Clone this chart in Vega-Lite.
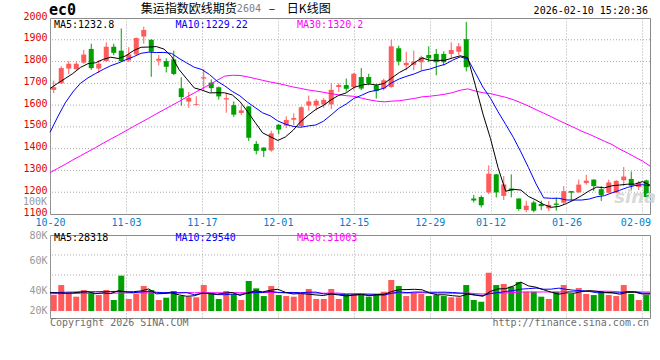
{
  "$schema": "https://vega.github.io/schema/vega-lite/v6.json",
  "background": "#ffffff",
  "autosize": {"type": "none"},
  "padding": {"left": 50, "top": 18, "right": 610, "bottom": 342},
  "bounds": "flush",
  "spacing": 21,
  "config": {
    "view": {"stroke": "#8a8a8a", "strokeWidth": 1},
    "axis": {"labelFont": "DejaVu Sans Mono", "labelFontSize": 10, "domain": false, "ticks": false, "gridColor": "#aaaaaa", "gridDash": [1, 2], "gridWidth": 1}
  },
  "datasets": {
    "k": [
      {"d":"10-20","o":1670,"h":1712,"l":1655,"c":1682,"v":32600,"m5":1676,"m10":1475,"m30":1290,"vm5":34500,"vm10":34500,"vm30":33600},
      {"d":"10-21","o":1700,"h":1778,"l":1698,"c":1770,"v":40500,"m5":1700,"m10":1545,"m30":1309,"vm5":34200,"vm10":34600,"vm30":33700},
      {"d":"10-22","o":1768,"h":1802,"l":1742,"c":1790,"v":33400,"m5":1722,"m10":1610,"m30":1328,"vm5":34000,"vm10":34800,"vm30":33800},
      {"d":"10-23","o":1765,"h":1800,"l":1762,"c":1790,"v":31300,"m5":1745,"m10":1660,"m30":1348,"vm5":34200,"vm10":34900,"vm30":33800},
      {"d":"10-24","o":1795,"h":1853,"l":1790,"c":1832,"v":36600,"m5":1772.8,"m10":1700,"m30":1367,"vm5":34880,"vm10":35000,"vm30":33900},
      {"d":"10-27","o":1858,"h":1882,"l":1762,"c":1770,"v":34400,"m5":1790.4,"m10":1725,"m30":1386,"vm5":35240,"vm10":35100,"vm30":33900},
      {"d":"10-28","o":1768,"h":1806,"l":1748,"c":1790,"v":32600,"m5":1794.4,"m10":1745,"m30":1405,"vm5":33660,"vm10":35200,"vm30":34000},
      {"d":"10-29","o":1802,"h":1888,"l":1800,"c":1868,"v":36600,"m5":1810,"m10":1764,"m30":1425,"vm5":34300,"vm10":35300,"vm30":34000},
      {"d":"10-30","o":1868,"h":1882,"l":1829,"c":1840,"v":28700,"m5":1820,"m10":1781,"m30":1444,"vm5":33780,"vm10":35400,"vm30":34100},
      {"d":"10-31","o":1850,"h":1952,"l":1798,"c":1802,"v":47900,"m5":1814,"m10":1793.4,"m30":1463,"vm5":36040,"vm10":35460,"vm30":34200},
      {"d":"11-03","o":1805,"h":1866,"l":1798,"c":1833,"v":29500,"m5":1826.6,"m10":1808.5,"m30":1482,"vm5":35060,"vm10":35150,"vm30":34200},
      {"d":"11-04","o":1833,"h":1910,"l":1830,"c":1908,"v":33400,"m5":1850.2,"m10":1822.3,"m30":1502,"vm5":35220,"vm10":34440,"vm30":34300},
      {"d":"11-05","o":1915,"h":1960,"l":1882,"c":1945,"v":39700,"m5":1865.6,"m10":1837.8,"m30":1521,"vm5":35840,"vm10":35070,"vm30":34300},
      {"d":"11-06","o":1900,"h":1902,"l":1730,"c":1845,"v":36600,"m5":1866.6,"m10":1843.3,"m30":1540,"vm5":37420,"vm10":35600,"vm30":34400},
      {"d":"11-07","o":1804,"h":1830,"l":1782,"c":1813,"v":28700,"m5":1868.8,"m10":1841.4,"m30":1560,"vm5":33580,"vm10":34810,"vm30":34400},
      {"d":"11-10","o":1802,"h":1815,"l":1750,"c":1776,"v":30500,"m5":1857.4,"m10":1842,"m30":1579,"vm5":33780,"vm10":34420,"vm30":34400},
      {"d":"11-11","o":1810,"h":1850,"l":1738,"c":1743,"v":35800,"m5":1824.4,"m10":1837.3,"m30":1598,"vm5":34260,"vm10":34740,"vm30":34500},
      {"d":"11-12","o":1677,"h":1728,"l":1597,"c":1637,"v":31800,"m5":1762.8,"m10":1814.2,"m30":1617,"vm5":32680,"vm10":34260,"vm30":34500},
      {"d":"11-13","o":1616,"h":1660,"l":1588,"c":1634,"v":31300,"m5":1720.6,"m10":1793.6,"m30":1637,"vm5":31620,"vm10":34520,"vm30":34500},
      {"d":"11-14","o":1600,"h":1640,"l":1598,"c":1604,"v":30800,"m5":1678.8,"m10":1773.8,"m30":1656,"vm5":32040,"vm10":32810,"vm30":34400},
      {"d":"11-17","o":1722,"h":1765,"l":1670,"c":1728,"v":40500,"m5":1669.2,"m10":1763.3,"m30":1675,"vm5":34040,"vm10":33910,"vm30":34500},
      {"d":"11-18","o":1703,"h":1718,"l":1660,"c":1678,"v":34000,"m5":1656.2,"m10":1740.3,"m30":1694,"vm5":33680,"vm10":33970,"vm30":34500},
      {"d":"11-19","o":1682,"h":1685,"l":1625,"c":1640,"v":29500,"m5":1656.8,"m10":1709.8,"m30":1714,"vm5":33220,"vm10":32950,"vm30":34400},
      {"d":"11-20","o":1626,"h":1656,"l":1565,"c":1632,"v":35800,"m5":1656.4,"m10":1688.5,"m30":1733,"vm5":34120,"vm10":32870,"vm30":34400},
      {"d":"11-21","o":1600,"h":1617,"l":1546,"c":1556,"v":33400,"m5":1646.8,"m10":1662.8,"m30":1737,"vm5":34640,"vm10":33340,"vm30":34500},
      {"d":"11-24","o":1564,"h":1598,"l":1555,"c":1576,"v":28700,"m5":1616.4,"m10":1642.8,"m30":1736,"vm5":32280,"vm10":33160,"vm30":34400},
      {"d":"11-25","o":1594,"h":1596,"l":1435,"c":1450,"v":43700,"m5":1570.8,"m10":1613.5,"m30":1730,"vm5":34220,"vm10":33950,"vm30":34500},
      {"d":"11-26","o":1422,"h":1435,"l":1374,"c":1390,"v":37900,"m5":1520.8,"m10":1588.8,"m30":1722,"vm5":35900,"vm10":34560,"vm30":34500},
      {"d":"11-27","o":1405,"h":1406,"l":1362,"c":1390,"v":31800,"m5":1472.4,"m10":1564.4,"m30":1714,"vm5":35100,"vm10":34610,"vm30":34500},
      {"d":"11-28","o":1392,"h":1482,"l":1386,"c":1470,"v":39700,"m5":1455.2,"m10":1551,"m30":1706.1,"vm5":36360,"vm10":35500,"vm30":34590},
      {"d":"12-01","o":1510,"h":1512,"l":1466,"c":1488,"v":32600,"m5":1437.6,"m10":1527,"m30":1699.6,"vm5":37140,"vm10":34710,"vm30":34590},
      {"d":"12-02","o":1506,"h":1548,"l":1495,"c":1532,"v":31800,"m5":1454,"m10":1512.4,"m30":1691.7,"vm5":34760,"vm10":34490,"vm30":34300},
      {"d":"12-03","o":1533,"h":1562,"l":1508,"c":1541,"v":31300,"m5":1484.2,"m10":1502.5,"m30":1683.4,"vm5":33440,"vm10":34670,"vm30":34230},
      {"d":"12-04","o":1504,"h":1595,"l":1500,"c":1590,"v":33400,"m5":1524.2,"m10":1498.3,"m30":1676.7,"vm5":33760,"vm10":34430,"vm30":34300},
      {"d":"12-05","o":1598,"h":1644,"l":1575,"c":1617,"v":37400,"m5":1553.6,"m10":1504.4,"m30":1669.5,"vm5":33300,"vm10":34830,"vm30":34330},
      {"d":"12-08","o":1598,"h":1628,"l":1576,"c":1620,"v":29500,"m5":1580,"m10":1508.8,"m30":1664.5,"vm5":32680,"vm10":34910,"vm30":34170},
      {"d":"12-09","o":1603,"h":1632,"l":1588,"c":1624,"v":29500,"m5":1598.4,"m10":1526.2,"m30":1659,"vm5":32220,"vm10":33490,"vm30":34070},
      {"d":"12-10","o":1603,"h":1700,"l":1582,"c":1670,"v":37400,"m5":1624.2,"m10":1554.2,"m30":1652.4,"vm5":33440,"vm10":33440,"vm30":34100},
      {"d":"12-11","o":1683,"h":1700,"l":1660,"c":1692,"v":29500,"m5":1644.6,"m10":1584.4,"m30":1647.5,"vm5":32660,"vm10":33210,"vm30":34130},
      {"d":"12-12","o":1692,"h":1722,"l":1662,"c":1675,"v":33400,"m5":1656.2,"m10":1604.9,"m30":1643.2,"vm5":31860,"vm10":32580,"vm30":33650},
      {"d":"12-15","o":1683,"h":1748,"l":1668,"c":1744,"v":33400,"m5":1681,"m10":1630.5,"m30":1640.3,"vm5":32640,"vm10":32660,"vm30":33780},
      {"d":"12-16","o":1729,"h":1770,"l":1668,"c":1676,"v":32600,"m5":1691.4,"m10":1644.9,"m30":1632.5,"vm5":33260,"vm10":32740,"vm30":33750},
      {"d":"12-17","o":1729,"h":1744,"l":1691,"c":1700,"v":31300,"m5":1697.4,"m10":1660.8,"m30":1624.4,"vm5":32040,"vm10":32740,"vm30":33470},
      {"d":"12-18","o":1691,"h":1698,"l":1630,"c":1664,"v":33400,"m5":1691.8,"m10":1668.2,"m30":1618.3,"vm5":32820,"vm10":32740,"vm30":33360},
      {"d":"12-19","o":1676,"h":1721,"l":1668,"c":1714,"v":35200,"m5":1699.6,"m10":1677.9,"m30":1615,"vm5":33180,"vm10":32520,"vm30":33580},
      {"d":"12-22","o":1683,"h":1900,"l":1680,"c":1870,"v":44500,"m5":1724.8,"m10":1702.9,"m30":1618.2,"vm5":35400,"vm10":34020,"vm30":34050},
      {"d":"12-23","o":1861,"h":1873,"l":1782,"c":1800,"v":39700,"m5":1749.6,"m10":1720.5,"m30":1620.1,"vm5":36820,"vm10":35040,"vm30":34180},
      {"d":"12-24","o":1783,"h":1845,"l":1760,"c":1794,"v":31800,"m5":1768.4,"m10":1732.9,"m30":1625.3,"vm5":36920,"vm10":34480,"vm30":34180},
      {"d":"12-25","o":1785,"h":1850,"l":1760,"c":1800,"v":34400,"m5":1795.6,"m10":1743.7,"m30":1630.8,"vm5":37120,"vm10":34970,"vm30":34280},
      {"d":"12-26","o":1797,"h":1827,"l":1759,"c":1820,"v":33400,"m5":1816.8,"m10":1758.2,"m30":1638,"vm5":36760,"vm10":34970,"vm30":34370},
      {"d":"12-29","o":1830,"h":1870,"l":1797,"c":1815,"v":31800,"m5":1805.8,"m10":1765.3,"m30":1640.9,"vm5":34220,"vm10":34810,"vm30":34080},
      {"d":"12-30","o":1835,"h":1858,"l":1737,"c":1797,"v":32600,"m5":1805.2,"m10":1777.4,"m30":1644.9,"vm5":32800,"vm10":34810,"vm30":34030},
      {"d":"12-31","o":1835,"h":1847,"l":1782,"c":1797,"v":31800,"m5":1805.8,"m10":1787.1,"m30":1650.1,"vm5":32800,"vm10":34860,"vm30":34110},
      {"d":"01-05","o":1835,"h":1888,"l":1815,"c":1853,"v":30800,"m5":1816.4,"m10":1806,"m30":1657.5,"vm5":32080,"vm10":34600,"vm30":33940},
      {"d":"01-06","o":1845,"h":1885,"l":1830,"c":1870,"v":30800,"m5":1826.4,"m10":1821.6,"m30":1668,"vm5":31560,"vm10":34160,"vm30":33850},
      {"d":"01-07","o":1903,"h":1982,"l":1755,"c":1774,"v":40500,"m5":1818.2,"m10":1812,"m30":1674.6,"vm5":33300,"vm10":33760,"vm30":34240},
      {"d":"01-08","o":1171,"h":1188,"l":1153,"c":1162,"v":28700,"m5":1691.2,"m10":1748.2,"m30":1665,"vm5":32520,"vm10":32660,"vm30":33740},
      {"d":"01-09","o":1178,"h":1185,"l":1130,"c":1140,"v":27300,"m5":1559.8,"m10":1682.8,"m30":1656.6,"vm5":31620,"vm10":32210,"vm30":33390},
      {"d":"01-12","o":1199,"h":1323,"l":1191,"c":1285,"v":50200,"m5":1446.2,"m10":1631.3,"m30":1653.1,"vm5":35500,"vm10":33790,"vm30":34000},
      {"d":"01-13","o":1282,"h":1284,"l":1176,"c":1199,"v":40500,"m5":1312,"m10":1569.2,"m30":1644.1,"vm5":37440,"vm10":34500,"vm30":34030},
      {"d":"01-14","o":1183,"h":1274,"l":1164,"c":1236,"v":41300,"m5":1204.4,"m10":1511.3,"m30":1635.7,"vm5":37600,"vm10":35450,"vm30":34320},
      {"d":"01-15","o":1217,"h":1282,"l":1176,"c":1207,"v":39200,"m5":1213.4,"m10":1452.3,"m30":1624.9,"vm5":39700,"vm10":36110,"vm30":34570},
      {"d":"01-16","o":1171,"h":1172,"l":1115,"c":1123,"v":42900,"m5":1210,"m10":1384.9,"m30":1610.9,"vm5":42820,"vm10":37220,"vm30":34960},
      {"d":"01-19","o":1118,"h":1161,"l":1108,"c":1138,"v":35200,"m5":1180.6,"m10":1313.4,"m30":1595.9,"vm5":39820,"vm10":37660,"vm30":35020},
      {"d":"01-20","o":1153,"h":1161,"l":1108,"c":1115,"v":35200,"m5":1163.8,"m10":1237.9,"m30":1579.1,"vm5":38760,"vm10":38100,"vm30":34950},
      {"d":"01-21","o":1146,"h":1161,"l":1118,"c":1136,"v":31300,"m5":1143.8,"m10":1174.1,"m30":1563,"vm5":36760,"vm10":37180,"vm30":35010},
      {"d":"01-22","o":1126,"h":1160,"l":1114,"c":1142,"v":29500,"m5":1130.8,"m10":1172.1,"m30":1546.9,"vm5":34820,"vm10":37260,"vm30":35010},
      {"d":"01-23","o":1148,"h":1175,"l":1115,"c":1142,"v":35200,"m5":1134.6,"m10":1172.3,"m30":1529.3,"vm5":33280,"vm10":38050,"vm30":34940},
      {"d":"01-26","o":1152,"h":1228,"l":1144,"c":1205,"v":40500,"m5":1148,"m10":1164.3,"m30":1513.1,"vm5":34340,"vm10":37080,"vm30":35310},
      {"d":"01-27","o":1205,"h":1206,"l":1162,"c":1198,"v":33400,"m5":1164.6,"m10":1164.2,"m30":1497.2,"vm5":33980,"vm10":36370,"vm30":35310},
      {"d":"01-28","o":1200,"h":1258,"l":1197,"c":1235,"v":38100,"m5":1184.4,"m10":1164.1,"m30":1480.2,"vm5":35340,"vm10":36050,"vm30":35470},
      {"d":"01-29","o":1242,"h":1280,"l":1235,"c":1253,"v":33400,"m5":1206.6,"m10":1168.7,"m30":1466.1,"vm5":36120,"vm10":35470,"vm30":35500},
      {"d":"01-30","o":1258,"h":1259,"l":1205,"c":1228,"v":32600,"m5":1223.8,"m10":1179.2,"m30":1450.4,"vm5":35600,"vm10":34440,"vm30":35540},
      {"d":"02-02","o":1214,"h":1228,"l":1160,"c":1187,"v":35800,"m5":1220.2,"m10":1184.1,"m30":1434.5,"vm5":34660,"vm10":34500,"vm30":35620},
      {"d":"02-03","o":1198,"h":1258,"l":1195,"c":1245,"v":32600,"m5":1229.6,"m10":1197.1,"m30":1418.9,"vm5":34500,"vm10":34240,"vm30":35530},
      {"d":"02-04","o":1198,"h":1256,"l":1195,"c":1252,"v":31800,"m5":1233,"m10":1208.7,"m30":1398.3,"vm5":33240,"vm10":34290,"vm30":35110},
      {"d":"02-05","o":1255,"h":1316,"l":1228,"c":1272,"v":40500,"m5":1236.8,"m10":1221.7,"m30":1380.7,"vm5":34660,"vm10":35390,"vm30":35140},
      {"d":"02-06","o":1261,"h":1295,"l":1208,"c":1230,"v":33400,"m5":1237.2,"m10":1230.5,"m30":1361.9,"vm5":34820,"vm10":35210,"vm30":35190},
      {"d":"02-09","o":1224,"h":1252,"l":1210,"c":1244,"v":28700,"m5":1248.6,"m10":1234.4,"m30":1343.3,"vm5":33400,"vm10":34030,"vm30":35000},
      {"d":"02-10","o":1254,"h":1258,"l":1174,"c":1178,"v":32600,"m5":1232.8,"m10":1229.22,"m30":1320.2,"vm5":33400,"vm10":33950,"vm30":34970}
    ]
  },
  "vconcat": [
    {
      "width": 600,
      "height": 196,
      "data": {"name": "k"},
      "layer": [
        {
          "data": {"values": [{"g": 1200}, {"g": 1300}, {"g": 1400}, {"g": 1500}, {"g": 1600}, {"g": 1700}, {"g": 1800}, {"g": 1900}]},
          "mark": {"type": "rule", "color": "#aaaaaa", "strokeWidth": 1, "strokeDash": [1, 2]},
          "encoding": {
            "y": {"field": "g", "type": "quantitative", "scale": {"domain": [1100, 2000], "nice": false, "zero": false},
              "axis": {"values": [1100,1200,1300,1400,1500,1600,1700,1800,1900,2000], "format": "d", "labelOverlap": false, "title": null, "grid": false, "labelColor": "#e00000", "labelPadding": 3, "labelOffset": -2}}
          }
        },
        {
          "encoding": {
            "x": {"field": "d", "type": "ordinal", "sort": null, "scale": {"type": "band", "paddingInner": 0, "paddingOuter": 0}, "axis": null}
          },
          "layer": [
            {
              "mark": {"type": "rule", "strokeWidth": 1},
              "encoding": {
                "y": {"field": "l", "type": "quantitative", "scale": {"domain": [1100, 2000], "nice": false, "zero": false},
                  "axis": {"values": [1100,1200,1300,1400,1500,1600,1700,1800,1900,2000], "format": "d", "labelOverlap": false, "title": null, "grid": false, "labelColor": "#e00000", "labelPadding": 3, "labelOffset": -2}},
                "y2": {"field": "h"},
                "color": {"condition": {"test": "datum.c >= datum.o", "value": "#ff5b5b"}, "value": "#00a000"}
              }
            },
            {
              "mark": {"type": "bar", "size": 5},
              "encoding": {
                "y": {"field": "o", "type": "quantitative", "scale": {"domain": [1100, 2000], "nice": false, "zero": false},
                  "axis": {"values": [1100,1200,1300,1400,1500,1600,1700,1800,1900,2000], "format": "d", "labelOverlap": false, "title": null, "grid": false, "labelColor": "#e00000", "labelPadding": 3, "labelOffset": -2}},
                "y2": {"field": "c"},
                "color": {"condition": {"test": "datum.c >= datum.o", "value": "#ff5b5b"}, "value": "#00a000"}
              }
            }
          ]
        },
        {
          "encoding": {
            "x": {
              "field": "d", "type": "ordinal", "sort": null,
              "scale": {"type": "point", "padding": 0, "domain": ["10-20","10-21","10-22","10-23","10-24","10-27","10-28","10-29","10-30","10-31","11-03","11-04","11-05","11-06","11-07","11-10","11-11","11-12","11-13","11-14","11-17","11-18","11-19","11-20","11-21","11-24","11-25","11-26","11-27","11-28","12-01","12-02","12-03","12-04","12-05","12-08","12-09","12-10","12-11","12-12","12-15","12-16","12-17","12-18","12-19","12-22","12-23","12-24","12-25","12-26","12-29","12-30","12-31","01-05","01-06","01-07","01-08","01-09","01-12","01-13","01-14","01-15","01-16","01-19","01-20","01-21","01-22","01-23","01-26","01-27","01-28","01-29","01-30","02-02","02-03","02-04","02-05","02-06","02-09","02-10"]},
              "axis": {
                "values": ["10-20","11-03","11-17","12-01","12-15","12-29","01-12","01-26","02-09"],
                "title": null, "grid": true, "labelColor": "#0080cc", "labelAngle": 0, "labelPadding": 3,
                "labelOverlap": false, "labelFlush": false, "labelBound": false,
                "labelOffset": {"condition": {"test": "datum.value === '02-09'", "value": -7}, "value": 0}
              }
            }
          },
          "layer": [
            {
              "mark": {"type": "line", "color": "#ff00ff", "strokeWidth": 1},
              "encoding": {
                "y": {"field": "m30", "type": "quantitative", "scale": {"domain": [1100, 2000], "nice": false, "zero": false},
                  "axis": {"values": [1100,1200,1300,1400,1500,1600,1700,1800,1900,2000], "format": "d", "labelOverlap": false, "title": null, "grid": false, "labelColor": "#e00000", "labelPadding": 3, "labelOffset": -2}}
              }
            },
            {
              "mark": {"type": "line", "color": "#0000ff", "strokeWidth": 1},
              "encoding": {
                "y": {"field": "m10", "type": "quantitative", "scale": {"domain": [1100, 2000], "nice": false, "zero": false},
                  "axis": {"values": [1100,1200,1300,1400,1500,1600,1700,1800,1900,2000], "format": "d", "labelOverlap": false, "title": null, "grid": false, "labelColor": "#e00000", "labelPadding": 3, "labelOffset": -2}}
              }
            },
            {
              "mark": {"type": "line", "color": "#000000", "strokeWidth": 1},
              "encoding": {
                "y": {"field": "m5", "type": "quantitative", "scale": {"domain": [1100, 2000], "nice": false, "zero": false},
                  "axis": {"values": [1100,1200,1300,1400,1500,1600,1700,1800,1900,2000], "format": "d", "labelOverlap": false, "title": null, "grid": false, "labelColor": "#e00000", "labelPadding": 3, "labelOffset": -2}}
              }
            },
            {
              "data": {"values": [{"t": "ec0", "p": "10-20", "y": 2036}]},
              "mark": {"type": "text", "font": "DejaVu Sans Mono", "fontSize": 15, "fontWeight": "bold", "align": "left", "baseline": "middle", "dx": -1, "color": "#000000"},
              "encoding": {"x": {"field": "p", "type": "ordinal"}, "y": {"field": "y", "type": "quantitative", "scale": {"domain": [1100, 2000], "nice": false, "zero": false}, "axis": {"values": [1100,1200,1300,1400,1500,1600,1700,1800,1900,2000], "format": "d", "labelOverlap": false, "title": null, "grid": false, "labelColor": "#e00000", "labelPadding": 3, "labelOffset": -2}}, "text": {"field": "t"}}
            },
            {
              "data": {"values": [{"t": "集运指数欧线期货", "p": "11-24", "y": 2040}]},
              "mark": {"type": "text", "font": "Noto Sans CJK SC", "fontSize": 12, "align": "right", "baseline": "middle", "dx": -3, "color": "#000000"},
              "encoding": {"x": {"field": "p", "type": "ordinal"}, "y": {"field": "y", "type": "quantitative", "scale": {"domain": [1100, 2000], "nice": false, "zero": false}, "axis": {"values": [1100,1200,1300,1400,1500,1600,1700,1800,1900,2000], "format": "d", "labelOverlap": false, "title": null, "grid": false, "labelColor": "#e00000", "labelPadding": 3, "labelOffset": -2}}, "text": {"field": "t"}}
            },
            {
              "data": {"values": [{"t": "2604", "p": "11-24", "y": 2040}]},
              "mark": {"type": "text", "font": "DejaVu Sans Mono", "fontSize": 10, "align": "left", "baseline": "middle", "dx": -3, "color": "#808080"},
              "encoding": {"x": {"field": "p", "type": "ordinal"}, "y": {"field": "y", "type": "quantitative", "scale": {"domain": [1100, 2000], "nice": false, "zero": false}, "axis": {"values": [1100,1200,1300,1400,1500,1600,1700,1800,1900,2000], "format": "d", "labelOverlap": false, "title": null, "grid": false, "labelColor": "#e00000", "labelPadding": 3, "labelOffset": -2}}, "text": {"field": "t"}}
            },
            {
              "data": {"values": [{"t": "–", "p": "11-24", "y": 2040}]},
              "mark": {"type": "text", "font": "Noto Sans CJK SC", "fontSize": 12, "align": "left", "baseline": "middle", "dx": 29, "color": "#000000"},
              "encoding": {"x": {"field": "p", "type": "ordinal"}, "y": {"field": "y", "type": "quantitative", "scale": {"domain": [1100, 2000], "nice": false, "zero": false}, "axis": {"values": [1100,1200,1300,1400,1500,1600,1700,1800,1900,2000], "format": "d", "labelOverlap": false, "title": null, "grid": false, "labelColor": "#e00000", "labelPadding": 3, "labelOffset": -2}}, "text": {"field": "t"}}
            },
            {
              "data": {"values": [{"t": "日K线图", "p": "11-24", "y": 2040}]},
              "mark": {"type": "text", "font": "Noto Sans CJK SC", "fontSize": 12, "align": "left", "baseline": "middle", "dx": 47, "color": "#000000"},
              "encoding": {"x": {"field": "p", "type": "ordinal"}, "y": {"field": "y", "type": "quantitative", "scale": {"domain": [1100, 2000], "nice": false, "zero": false}, "axis": {"values": [1100,1200,1300,1400,1500,1600,1700,1800,1900,2000], "format": "d", "labelOverlap": false, "title": null, "grid": false, "labelColor": "#e00000", "labelPadding": 3, "labelOffset": -2}}, "text": {"field": "t"}}
            },
            {
              "data": {"values": [{"t": "2026-02-10 15:20:36", "p": "02-10", "y": 2032}]},
              "mark": {"type": "text", "font": "DejaVu Sans Mono", "fontSize": 10, "align": "right", "baseline": "middle", "dx": -2, "color": "#000000"},
              "encoding": {"x": {"field": "p", "type": "ordinal"}, "y": {"field": "y", "type": "quantitative", "scale": {"domain": [1100, 2000], "nice": false, "zero": false}, "axis": {"values": [1100,1200,1300,1400,1500,1600,1700,1800,1900,2000], "format": "d", "labelOverlap": false, "title": null, "grid": false, "labelColor": "#e00000", "labelPadding": 3, "labelOffset": -2}}, "text": {"field": "t"}}
            },
            {
              "data": {"values": [{"t": "MA5:1232.8", "p": "10-20", "y": 1970, "k": "a"}, {"t": "MA10:1229.22", "p": "11-11", "y": 1970, "k": "b"}, {"t": "MA30:1320.2", "p": "12-03", "y": 1970, "k": "c"}]},
              "mark": {"type": "text", "font": "DejaVu Sans Mono", "fontSize": 10, "align": "left", "baseline": "middle", "dx": 4},
              "encoding": {"x": {"field": "p", "type": "ordinal"}, "y": {"field": "y", "type": "quantitative", "scale": {"domain": [1100, 2000], "nice": false, "zero": false}, "axis": {"values": [1100,1200,1300,1400,1500,1600,1700,1800,1900,2000], "format": "d", "labelOverlap": false, "title": null, "grid": false, "labelColor": "#e00000", "labelPadding": 3, "labelOffset": -2}}, "text": {"field": "t"},
                "color": {"field": "k", "type": "nominal", "scale": {"domain": ["a", "b", "c"], "range": ["#000000", "#0000ff", "#ff00ff"]}, "legend": null}}
            },
            {
              "data": {"values": [{"t": "100K", "p": "10-20", "y": 1157}]},
              "mark": {"type": "text", "font": "DejaVu Sans Mono", "fontSize": 10, "align": "right", "baseline": "middle", "dx": -3, "color": "#999999"},
              "encoding": {"x": {"field": "p", "type": "ordinal"}, "y": {"field": "y", "type": "quantitative", "scale": {"domain": [1100, 2000], "nice": false, "zero": false}, "axis": {"values": [1100,1200,1300,1400,1500,1600,1700,1800,1900,2000], "format": "d", "labelOverlap": false, "title": null, "grid": false, "labelColor": "#e00000", "labelPadding": 3, "labelOffset": -2}}, "text": {"field": "t"}}
            },
            {
              "data": {"values": [{"t": "sina", "p": "02-05", "y": 1173}]},
              "mark": {"type": "text", "font": "DejaVu Sans", "fontSize": 18, "fontStyle": "italic", "fontWeight": "bold", "align": "center", "baseline": "middle", "dx": 8, "color": "#d9d9d9"},
              "encoding": {"x": {"field": "p", "type": "ordinal"}, "y": {"field": "y", "type": "quantitative", "scale": {"domain": [1100, 2000], "nice": false, "zero": false}, "axis": {"values": [1100,1200,1300,1400,1500,1600,1700,1800,1900,2000], "format": "d", "labelOverlap": false, "title": null, "grid": false, "labelColor": "#e00000", "labelPadding": 3, "labelOffset": -2}}, "text": {"field": "t"}}
            }
          ]
        }
      ],
      "resolve": {"scale": {"x": "independent"}}
    },
    {
      "width": 600,
      "height": 83,
      "data": {"name": "k"},
      "layer": [
        {
          "data": {"values": [{"g": 64210}, {"g": 48420}]},
          "mark": {"type": "rule", "color": "#aaaaaa", "strokeWidth": 1, "strokeDash": [1, 2]},
          "encoding": {
            "y": {"field": "g", "type": "quantitative", "scale": {"domain": [14470, 80000], "nice": false, "zero": false}, "axis": null}
          }
        },
        {
          "encoding": {
            "x": {"field": "d", "type": "ordinal", "sort": null, "scale": {"type": "band", "paddingInner": 0, "paddingOuter": 0}, "axis": null}
          },
          "layer": [
            {
              "mark": {"type": "bar", "size": 6},
              "encoding": {
                "y": {"field": "v", "type": "quantitative", "scale": {"domain": [14470, 80000], "nice": false, "zero": false},
                  "axis": {"values": [20000, 40000, 60000, 80000], "labelExpr": "(datum.value / 1000) + 'K'", "title": null, "grid": false, "labelColor": "#999999", "labelPadding": 3,
                    "labelOffset": {"condition": {"test": "datum.value === 40000", "value": 5}, "value": 0}}},
                "y2": {"datum": 20000},
                "color": {"condition": {"test": "datum.c >= datum.o", "value": "#ff5b5b"}, "value": "#00a000"}
              }
            }
          ]
        },
        {
          "encoding": {
            "x": {
              "field": "d", "type": "ordinal", "sort": null,
              "scale": {"type": "point", "padding": 0, "domain": ["10-20","10-21","10-22","10-23","10-24","10-27","10-28","10-29","10-30","10-31","11-03","11-04","11-05","11-06","11-07","11-10","11-11","11-12","11-13","11-14","11-17","11-18","11-19","11-20","11-21","11-24","11-25","11-26","11-27","11-28","12-01","12-02","12-03","12-04","12-05","12-08","12-09","12-10","12-11","12-12","12-15","12-16","12-17","12-18","12-19","12-22","12-23","12-24","12-25","12-26","12-29","12-30","12-31","01-05","01-06","01-07","01-08","01-09","01-12","01-13","01-14","01-15","01-16","01-19","01-20","01-21","01-22","01-23","01-26","01-27","01-28","01-29","01-30","02-02","02-03","02-04","02-05","02-06","02-09","02-10"]},
              "axis": {"values": ["10-20","11-03","11-17","12-01","12-15","12-29","01-12","01-26","02-09"], "title": null, "grid": true, "labels": false}
            }
          },
          "layer": [
            {
              "mark": {"type": "line", "color": "#ff00ff", "strokeWidth": 1},
              "encoding": {"y": {"field": "vm30", "type": "quantitative", "scale": {"domain": [14470, 80000], "nice": false, "zero": false}, "axis": null}}
            },
            {
              "mark": {"type": "line", "color": "#0000ff", "strokeWidth": 1},
              "encoding": {"y": {"field": "vm10", "type": "quantitative", "scale": {"domain": [14470, 80000], "nice": false, "zero": false}, "axis": null}}
            },
            {
              "mark": {"type": "line", "color": "#000000", "strokeWidth": 1},
              "encoding": {"y": {"field": "vm5", "type": "quantitative", "scale": {"domain": [14470, 80000], "nice": false, "zero": false}, "axis": null}}
            },
            {
              "data": {"values": [{"t": "MA5:28318", "p": "10-20", "y": 77237, "k": "a"}, {"t": "MA10:29540", "p": "11-11", "y": 77237, "k": "b"}, {"t": "MA30:31003", "p": "12-03", "y": 77237, "k": "c"}]},
              "mark": {"type": "text", "font": "DejaVu Sans Mono", "fontSize": 10, "align": "left", "baseline": "middle", "dx": 4},
              "encoding": {"x": {"field": "p", "type": "ordinal"}, "y": {"field": "y", "type": "quantitative", "scale": {"domain": [14470, 80000], "nice": false, "zero": false}, "axis": null}, "text": {"field": "t"},
                "color": {"field": "k", "type": "nominal", "scale": {"domain": ["a", "b", "c"], "range": ["#000000", "#0000ff", "#ff00ff"]}, "legend": null}}
            },
            {
              "data": {"values": [{"t": "Copyright 2026 SINA.COM", "p": "10-20", "y": 10130}]},
              "mark": {"type": "text", "font": "DejaVu Sans Mono", "fontSize": 10, "align": "left", "baseline": "middle", "dx": 0, "color": "#6e6e6e"},
              "encoding": {"x": {"field": "p", "type": "ordinal"}, "y": {"field": "y", "type": "quantitative", "scale": {"domain": [14470, 80000], "nice": false, "zero": false}, "axis": null}, "text": {"field": "t"}}
            },
            {
              "data": {"values": [{"t": "http://finance.sina.com.cn", "p": "02-10", "y": 10130}]},
              "mark": {"type": "text", "font": "DejaVu Sans Mono", "fontSize": 10, "align": "right", "baseline": "middle", "dx": -1, "color": "#6e6e6e"},
              "encoding": {"x": {"field": "p", "type": "ordinal"}, "y": {"field": "y", "type": "quantitative", "scale": {"domain": [14470, 80000], "nice": false, "zero": false}, "axis": null}, "text": {"field": "t"}}
            }
          ]
        }
      ],
      "resolve": {"scale": {"x": "independent"}, "axis": {"y": "independent"}}
    }
  ]
}
